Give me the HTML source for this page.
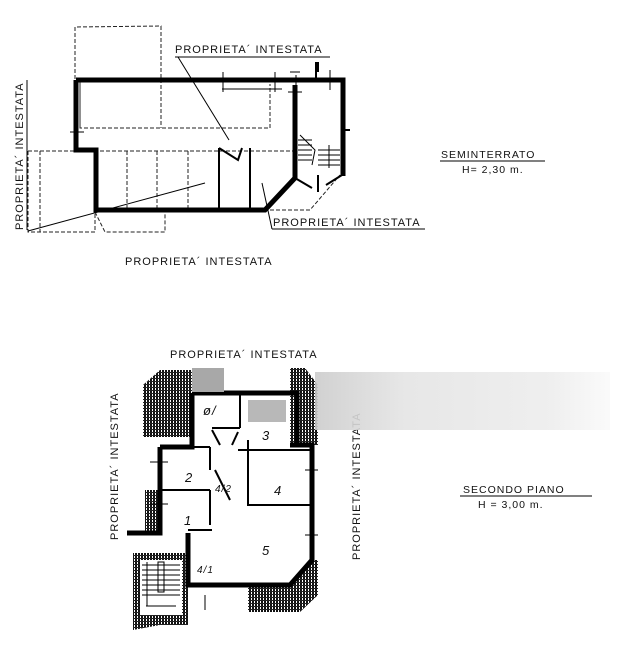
<!DOCTYPE html>
<html><head><meta charset="utf-8"><style>
html,body{margin:0;padding:0;background:#fff;}
svg{display:block}
text{font-family:"Liberation Sans",sans-serif;fill:#111;letter-spacing:1px}
</style></head><body>
<svg width="637" height="646" viewBox="0 0 637 646" xmlns="http://www.w3.org/2000/svg">
<defs>
<pattern id="h" width="3" height="3" patternUnits="userSpaceOnUse">
<rect width="3" height="3" fill="#fff"/><rect width="2" height="3" fill="#111"/><rect width="3" height="1" fill="#222"/>
</pattern>
<linearGradient id="bl" x1="0" x2="1" y1="0" y2="0">
<stop offset="0" stop-color="#ccc"/><stop offset="0.3" stop-color="#e4e4e4"/><stop offset="0.8" stop-color="#ededed"/><stop offset="1" stop-color="#fafafa"/>
</linearGradient>
</defs>
<!-- TOP PLAN dashed -->
<g fill="none" stroke="#222" stroke-width="1" stroke-dasharray="4,2">
<path d="M75 79 L75 27 L161 26 L161 79"/>
<path d="M80 84 L80 128 L270 128 L270 84"/>
<path d="M80 128 L80 79"/>
<path d="M161 79 L161 128"/>
<path d="M28 151 L295 151"/>
<path d="M28 151 L28 232 L95 232 L95 210"/>
<path d="M40 151 L40 232"/>
<path d="M95 212 L105 232 L165 232 L165 210"/>
<path d="M127 151 L127 210 M157 151 L157 210 M188 151 L188 210"/>
<path d="M270 210 L310 210 L340 175"/>
</g>
<g fill="none" stroke="#000" stroke-width="5" stroke-linejoin="miter">
<path d="M76 80 L343 80 L343 176"/>
<path d="M76 80 L76 150 L96 150 L96 210 L265 210 L295 178 L295 85"/>
</g>
<g stroke="#000" stroke-width="2" fill="none">
<path d="M219 148 L219 210 M250 148 L250 210"/>
<path d="M219 148 L238 160 L242 148"/>
<path d="M316 62 L316 80 M318 72 L318 62"/>
<path d="M343 130 L350 130"/>
<path d="M295 178 L312 188 M342 175 L326 185 M318 175 L318 192"/>
</g>
<g stroke="#000" stroke-width="1" fill="none">
<path d="M222 89 L282 89 M223 72 L223 92 M275 72 L275 92 M296 75 L296 90 M288 92 L302 92 M290 72 L300 72 M330 70 L330 90"/>
<path d="M70 132 L84 132"/>
<path d="M298 140 L312 140 M298 145 L312 145 M298 150 L312 150 M298 155 L312 155 M298 160 L312 160"/>
<path d="M300 135 L315 150 L312 165"/>
<path d="M318 150 L340 150 M318 155 L340 155 M318 160 L340 160 M318 165 L340 165 M329 145 L329 168"/>
<path d="M28 231 L205 183"/>
<path d="M178 57 L229 140"/>
<path d="M272 229 L262 183"/>
<path d="M175 57 L330 57"/>
<path d="M272 229 L425 229"/>
</g>
<text x="175" y="53" font-size="11">PROPRIETA´ INTESTATA</text>
<text x="273" y="226" font-size="11">PROPRIETA´ INTESTATA</text>
<text x="125" y="265" font-size="11">PROPRIETA´  INTESTATA</text>
<text transform="translate(23,230) rotate(-90)" font-size="11">PROPRIETA´ INTESTATA</text>
<line x1="27" y1="80" x2="27" y2="230" stroke="#000"/>
<text x="441" y="158" font-size="10.5">SEMINTERRATO</text>
<line x1="440" y1="161" x2="545" y2="161" stroke="#000"/>
<text x="462" y="173" font-size="10.5">H= 2,30 m.</text>

<!-- BOTTOM PLAN -->
<path d="M143 385 L160 370 L192 370 L192 437 L143 437 Z" fill="url(#h)"/>
<path d="M290 368 L305 368 L318 385 L318 445 L290 445 Z" fill="url(#h)"/>
<path d="M145 490 L160 490 L160 532 L145 532 Z" fill="url(#h)"/>
<path d="M248 585 L290 585 L312 560 L318 560 L318 595 L300 612 L248 612 Z" fill="url(#h)"/>
<path d="M133 553 L188 553 L188 625 L160 625 L133 630 Z" fill="url(#h)"/>
<rect x="140" y="560" width="42" height="55" fill="#fff"/>
<g stroke="#000" stroke-width="1" fill="none">
<path d="M142 565 L180 565 M142 570 L180 570 M142 575 L180 575 M142 580 L180 580 M142 585 L180 585 M142 590 L180 590 M142 595 L180 595"/>
<rect x="158" y="562" width="6" height="30"/><path d="M146 606 L176 606 M147 562 L147 606"/>
</g>
<g fill="none" stroke="#000" stroke-width="5">
<path d="M192 393 L297 393 L297 445"/>
<path d="M160 447 L192 447 L192 393"/>
<path d="M160 447 L160 533 L127 533"/>
<path d="M188 533 L188 585 L290 585 L312 560 L312 445 L290 445"/>
</g>
<g fill="none" stroke="#000" stroke-width="2">
<path d="M240 393 L240 428 M212 428 L240 428 M248 440 L248 505 L312 505 M238 450 L312 450"/>
<path d="M160 490 L210 490 M160 447 L210 447 M210 447 L210 470 M210 490 L210 525 M188 530 L212 530"/>
<path d="M212 430 L220 445 M238 432 L232 445 M215 470 L230 500"/>
</g>
<g stroke="#000" stroke-width="1">
<path d="M150 462 L168 462 M150 504 L168 504 M305 470 L318 470 M305 535 L318 535 M205 595 L205 610"/>
</g>
<g font-size="13" font-family="Liberation Serif,serif" font-style="italic">
<text x="203" y="415">ø/</text><text x="262" y="440">3</text><text x="185" y="482">2</text>
<text x="274" y="495">4</text><text x="184" y="525">1</text><text x="262" y="555">5</text>
<text x="215" y="492" font-size="10">4/2</text><text x="197" y="573" font-size="10">4/1</text>
</g>
<rect x="192" y="368" width="32" height="24" fill="#a8a8a8"/>
<rect x="248" y="400" width="38" height="22" fill="#b8b8b8"/>
<text x="170" y="358" font-size="11">PROPRIETA´  INTESTATA</text>
<text transform="translate(118,540) rotate(-90)" font-size="11">PROPRIETA´ INTESTATA</text>
<text transform="translate(360,560) rotate(-90)" font-size="11">PROPRIETA´ INTESTATA</text>
<rect x="315" y="372" width="295" height="58" fill="url(#bl)" opacity="0.9"/>
<text x="463" y="493" font-size="10.5">SECONDO    PIANO</text>
<line x1="460" y1="496" x2="592" y2="496" stroke="#000"/>
<text x="478" y="508" font-size="10.5">H = 3,00 m.</text>
</svg>
</body></html>
